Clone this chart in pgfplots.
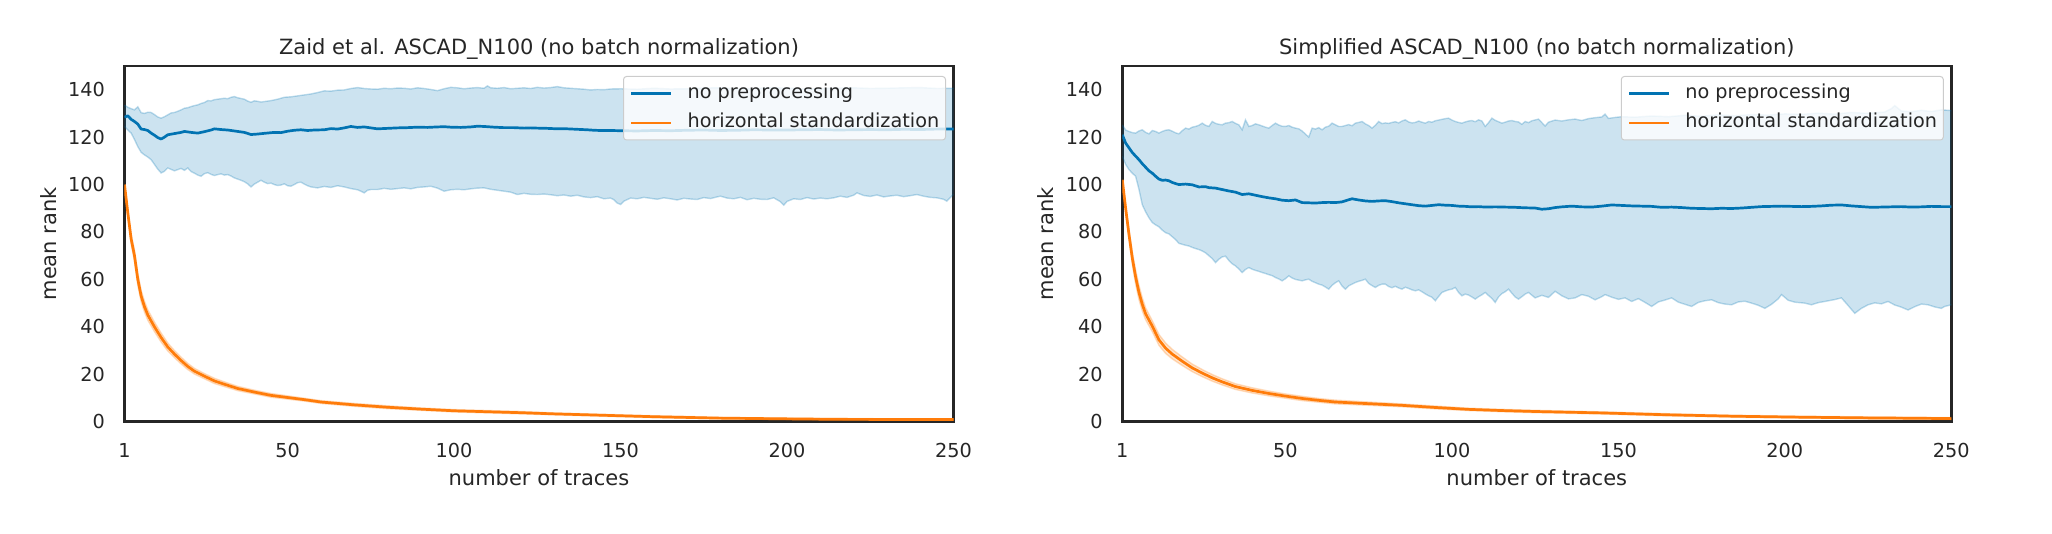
\documentclass[border=0pt]{standalone}
\usepackage{fontspec}
\setmainfont{DejaVu Sans}
\usepackage{pgfplots}
\usepackage{pgfplotstable}
\pgfplotsset{compat=1.18}
\definecolor{cblue}{RGB}{1,115,178}
\definecolor{corange}{RGB}{255,124,10}
\definecolor{tgray}{RGB}{38,38,38}
\definecolor{lframe}{RGB}{204,204,204}

% ---------- LEFT: blue band ----------
\pgfplotstableread[row sep=\\]{x y\\
1 133.5\\ 2 132.6\\ 3 132.0\\ 4 131.5\\ 5 132.8\\ 6 130.3\\ 7 130.0\\ 8 130.5\\ 9 130.4\\ 10 129.5\\
11 128.5\\ 12 128.0\\ 13 128.6\\ 14 129.4\\ 15 130.2\\ 16 130.4\\ 17 130.9\\ 18 131.5\\ 19 132.2\\ 20 132.4\\
21 132.9\\ 22 133.3\\ 23 133.6\\ 24 134.2\\ 25 134.6\\ 26 135.4\\ 27 135.3\\ 28 135.8\\ 29 136.0\\ 30 136.2\\
31 136.4\\ 32 136.2\\ 33 136.8\\ 34 137.1\\ 35 136.6\\ 36 136.3\\ 37 136.0\\ 38 135.2\\ 39 134.7\\ 40 135.3\\
41 135.1\\ 42 134.8\\ 43 135.0\\ 45 135.4\\ 47 136.0\\ 49 136.8\\ 51 137.0\\ 53 137.4\\ 55 137.8\\ 57 138.2\\
59 138.8\\ 61 139.5\\ 63 139.4\\ 65 139.8\\ 67 139.9\\ 69 140.5\\ 71 140.9\\ 73 140.5\\ 75 140.3\\ 77 140.2\\
79 140.6\\ 81 140.4\\ 83 140.7\\ 85 140.6\\ 87 140.3\\ 89 140.8\\ 91 140.5\\ 93 140.1\\ 95 139.6\\ 97 140.4\\
99 141.0\\ 101 140.8\\ 103 140.4\\ 105 140.7\\ 107 140.9\\ 109 140.6\\ 110 141.6\\ 111 140.8\\ 113 140.6\\ 115 140.9\\
117 140.4\\ 119 140.6\\ 121 140.8\\ 123 140.5\\ 125 141.0\\ 127 140.7\\ 129 140.9\\ 131 141.3\\ 133 140.8\\ 135 140.6\\
137 140.4\\ 139 140.2\\ 141 139.9\\ 143 140.1\\ 145 140.0\\ 147 140.3\\ 150 140.4\\ 155 140.2\\ 160 140.6\\ 165 140.3\\
170 140.4\\ 175 140.7\\ 180 140.8\\ 185 140.4\\ 190 140.5\\ 195 140.8\\ 200 140.7\\ 205 140.3\\ 210 140.4\\ 215 140.7\\
220 140.8\\ 225 140.5\\ 230 140.6\\ 235 140.8\\ 240 140.9\\ 245 140.5\\ 250 140.6\\
}\LU
\pgfplotstableread[row sep=\\]{x y\\
1 124.5\\ 2 123.0\\ 3 121.7\\ 4 119.0\\ 5 116.0\\ 6 113.6\\ 7 112.5\\ 8 111.6\\ 9 110.5\\ 10 108.5\\
11 106.5\\ 12 104.9\\ 13 105.6\\ 14 107.0\\ 15 106.4\\ 16 105.8\\ 17 106.3\\ 18 106.8\\ 19 106.0\\ 20 107.0\\
21 105.5\\ 22 104.8\\ 23 104.0\\ 24 103.5\\ 25 104.6\\ 26 105.0\\ 27 104.3\\ 28 103.8\\ 29 104.2\\ 30 104.5\\
31 104.0\\ 32 104.2\\ 33 103.6\\ 34 102.8\\ 35 102.3\\ 36 101.8\\ 37 101.2\\ 38 100.3\\ 39 99.0\\ 40 100.2\\
41 101.0\\ 42 101.8\\ 43 101.0\\ 44 100.4\\ 45 100.6\\ 46 100.0\\ 47 99.6\\ 48 99.8\\ 49 100.3\\ 50 99.5\\
51 99.3\\ 52 100.0\\ 53 100.8\\ 54 101.0\\ 55 100.2\\ 56 99.5\\ 57 99.0\\ 58 98.8\\ 59 98.6\\ 61 99.2\\
63 98.8\\ 65 99.5\\ 67 99.0\\ 69 98.3\\ 71 97.8\\ 72 97.2\\ 73 96.5\\ 74 97.6\\ 75 97.9\\ 77 97.9\\
79 98.4\\ 81 98.0\\ 83 98.3\\ 85 98.6\\ 87 98.2\\ 89 98.8\\ 91 99.0\\ 93 99.3\\ 95 98.5\\ 97 97.2\\
99 97.8\\ 101 98.0\\ 103 97.8\\ 105 98.2\\ 107 98.5\\ 109 98.6\\ 111 98.0\\ 113 97.6\\ 115 97.2\\ 117 96.8\\
119 95.8\\ 121 96.3\\ 123 95.9\\ 125 95.8\\ 127 96.0\\ 129 95.7\\ 131 95.3\\ 133 95.6\\ 135 95.1\\ 137 95.5\\
139 94.8\\ 141 94.5\\ 143 94.9\\ 145 94.0\\ 147 94.3\\ 148 93.6\\ 149 92.2\\ 150 91.6\\ 151 93.0\\ 153 94.3\\
155 94.0\\ 157 94.6\\ 159 94.2\\ 161 93.8\\ 163 94.4\\ 165 94.0\\ 167 93.5\\ 169 94.2\\ 171 93.9\\ 173 93.7\\
175 94.5\\ 177 94.1\\ 179 94.8\\ 180 95.1\\ 182 94.3\\ 184 94.0\\ 186 94.6\\ 188 93.6\\ 190 94.2\\ 192 93.8\\
194 93.7\\ 196 94.4\\ 198 92.8\\ 199 91.3\\ 200 92.9\\ 202 94.0\\ 204 93.7\\ 206 94.5\\ 208 93.9\\ 210 94.3\\
212 94.0\\ 214 94.4\\ 216 95.1\\ 218 94.6\\ 220 95.5\\ 221 96.5\\ 223 95.4\\ 225 95.0\\ 227 95.6\\ 229 94.8\\
231 95.2\\ 233 95.5\\ 235 94.9\\ 237 95.3\\ 239 95.8\\ 241 95.1\\ 243 94.6\\ 245 94.4\\ 247 93.8\\ 248 93.0\\
249 94.5\\ 250 95.8\\
}\LL
% ---------- LEFT: orange band ----------
\pgfplotstableread[row sep=\\]{x y\\
1 100\\ 2 89.5\\ 3 79\\ 4 72.3\\ 5 62.5\\ 6 55.4\\ 7 50.8\\ 8 47.2\\ 10 42\\ 12 37.4\\ 14 33.2\\ 16 30\\ 18 27.2\\
20 24.6\\ 22 22.5\\ 25 20.3\\ 28 18.3\\ 31 16.8\\ 35 14.9\\ 40 13.3\\ 45 11.9\\ 50 10.9\\ 55 9.9\\ 60 8.9\\ 70 7.7\\
80 6.7\\ 90 5.8\\ 100 5.1\\ 110 4.7\\ 120 4.3\\ 130 3.7\\ 140 3.3\\ 150 2.9\\ 160 2.5\\ 170 2.2\\ 180 1.8\\
190 1.65\\ 200 1.5\\ 215 1.3\\ 230 1.25\\ 250 1.2\\
}\LOU
\pgfplotstableread[row sep=\\]{x y\\
1 100\\ 2 86.5\\ 3 75\\ 4 67.7\\ 5 57.5\\ 6 50.6\\ 7 46.2\\ 8 42.8\\ 10 38\\ 12 33.6\\ 14 29.8\\ 16 27\\ 18 24.4\\
20 22\\ 22 20.1\\ 25 18.1\\ 28 16.1\\ 31 14.8\\ 35 13.1\\ 40 11.7\\ 45 10.3\\ 50 9.5\\ 55 8.7\\ 60 7.7\\ 70 6.5\\
80 5.5\\ 90 4.8\\ 100 4.1\\ 110 3.7\\ 120 3.3\\ 130 2.9\\ 140 2.5\\ 150 2.1\\ 160 1.7\\ 170 1.4\\ 180 1.2\\
190 1.05\\ 200 0.9\\ 215 0.7\\ 230 0.65\\ 250 0.6\\
}\LOL
% ---------- RIGHT: blue band ----------
\pgfplotstableread[row sep=\\]{x y\\
1 125.2\\ 2 123.0\\ 3 122.4\\ 4 121.9\\ 5 121.7\\ 6 122.6\\ 7 123.1\\ 8 122.0\\ 9 121.4\\ 10 122.8\\
11 122.4\\ 12 121.7\\ 13 122.4\\ 14 122.9\\ 15 123.1\\ 16 122.5\\ 17 121.8\\ 18 121.4\\ 19 122.7\\ 20 123.8\\
21 123.4\\ 22 124.2\\ 23 124.5\\ 24 125.0\\ 25 125.9\\ 26 125.0\\ 27 124.5\\ 28 126.6\\ 29 125.8\\ 30 125.4\\
31 125.2\\ 32 125.9\\ 33 126.1\\ 34 126.6\\ 35 125.8\\ 36 125.2\\ 37 123.1\\ 38 127.3\\ 39 124.5\\ 40 124.9\\
41 125.6\\ 42 125.2\\ 43 124.7\\ 44 124.2\\ 45 123.8\\ 46 124.9\\ 47 125.9\\ 48 125.1\\ 49 124.6\\ 50 124.5\\
51 124.9\\ 52 124.2\\ 53 123.8\\ 54 123.5\\ 55 122.6\\ 56 121.3\\ 57 120.0\\ 58 123.8\\ 59 123.4\\ 60 124.0\\
61 123.1\\ 62 124.2\\ 63 124.6\\ 64 125.9\\ 65 125.2\\ 66 124.5\\ 67 124.5\\ 68 124.9\\ 69 125.3\\ 70 124.8\\
71 125.9\\ 72 126.2\\ 73 126.6\\ 74 125.6\\ 75 124.9\\ 76 123.8\\ 77 125.0\\ 78 126.6\\ 79 125.7\\ 80 126.0\\
81 125.8\\ 82 126.2\\ 83 126.5\\ 84 126.0\\ 85 126.8\\ 86 127.3\\ 87 126.4\\ 88 126.0\\ 89 126.2\\ 90 126.8\\
91 126.3\\ 92 125.9\\ 93 126.6\\ 94 126.3\\ 95 126.9\\ 96 127.2\\ 97 127.5\\ 98 127.8\\ 99 128.0\\ 100 127.2\\
101 126.6\\ 102 126.2\\ 103 125.9\\ 104 126.4\\ 105 126.8\\ 106 127.0\\ 107 126.5\\ 108 127.3\\ 109 126.8\\ 110 124.5\\
111 126.1\\ 112 128.0\\ 113 127.1\\ 114 126.5\\ 115 125.9\\ 116 126.3\\ 117 126.8\\ 118 127.0\\ 119 126.6\\ 120 126.4\\
121 125.4\\ 122 126.6\\ 123 126.1\\ 124 126.9\\ 126 127.6\\ 128 124.7\\ 129 126.3\\ 131 127.2\\ 133 126.8\\ 135 127.3\\
137 127.6\\ 139 127.0\\ 141 127.8\\ 143 128.2\\ 145 128.5\\ 146 129.7\\ 147 127.9\\ 149 128.3\\ 151 128.6\\ 155 128.4\\
160 128.9\\ 165 128.6\\ 170 129.2\\ 175 128.8\\ 180 129.4\\ 185 129.0\\ 190 129.5\\ 195 129.3\\ 200 129.8\\ 205 129.6\\
210 130.1\\ 215 129.7\\ 220 130.4\\ 225 130.0\\ 230 130.6\\ 232 132.0\\ 233 133.3\\ 235 131.0\\ 238 130.7\\ 241 131.3\\
244 130.8\\ 247 131.5\\ 250 131.2\\
}\RU
\pgfplotstableread[row sep=\\]{x y\\
1 111.9\\ 2 108.5\\ 3 106.3\\ 4 104.8\\ 5 103.5\\ 6 98\\ 7 91.5\\ 8 88.5\\ 9 86\\ 10 84\\
11 83.0\\ 12 82.2\\ 13 80.8\\ 14 79.7\\ 15 79.2\\ 16 78.0\\ 17 76.8\\ 18 75.2\\ 19 74.8\\ 20 74.4\\
21 74.1\\ 22 73.5\\ 23 73.0\\ 24 72.6\\ 25 72.0\\ 26 71.2\\ 27 70.0\\ 28 68.8\\ 29 67.1\\ 30 68.5\\
31 69.5\\ 32 69.8\\ 33 68.0\\ 34 66.6\\ 35 65.7\\ 36 64.4\\ 37 62.9\\ 38 64.2\\ 39 65.0\\ 40 64.3\\
41 63.8\\ 42 63.4\\ 43 62.9\\ 44 62.5\\ 45 62.0\\ 46 61.6\\ 47 60.8\\ 48 60.2\\ 49 59.4\\ 50 60.3\\
51 61.5\\ 52 60.6\\ 53 60.0\\ 54 59.7\\ 55 59.4\\ 56 59.8\\ 57 60.1\\ 58 59.2\\ 59 58.6\\ 60 58.0\\
61 57.6\\ 62 56.8\\ 63 55.9\\ 64 57.5\\ 65 58.6\\ 66 59.4\\ 67 57.2\\ 68 55.9\\ 69 57.3\\ 70 58.0\\
71 58.7\\ 72 59.2\\ 73 59.6\\ 74 60.1\\ 75 58.3\\ 76 57.4\\ 77 56.6\\ 78 57.5\\ 79 58.0\\ 80 58.0\\
81 57.0\\ 82 56.5\\ 83 57.1\\ 84 56.4\\ 85 55.9\\ 86 56.7\\ 87 56.2\\ 88 55.6\\ 89 55.2\\ 90 55.6\\
91 54.8\\ 92 53.9\\ 93 53.1\\ 94 52.5\\ 95 51.0\\ 96 52.8\\ 97 54.5\\ 98 55.1\\ 99 55.6\\ 100 55.9\\
101 56.6\\ 102 54.5\\ 103 53.1\\ 104 53.8\\ 105 53.4\\ 106 52.6\\ 107 51.7\\ 108 52.7\\ 109 53.5\\ 110 54.5\\
111 53.2\\ 112 52.0\\ 113 50.3\\ 114 52.6\\ 115 54.0\\ 116 54.8\\ 117 55.9\\ 118 54.2\\ 119 52.6\\ 120 51.7\\
121 52.7\\ 122 53.8\\ 123 54.5\\ 125 52.2\\ 127 53.3\\ 129 52.4\\ 131 55.0\\ 133 53.1\\ 135 51.8\\ 137 52.2\\
139 53.6\\ 141 52.9\\ 143 51.4\\ 145 52.7\\ 146 53.6\\ 148 52.5\\ 150 51.6\\ 152 52.2\\ 154 50.7\\ 156 51.9\\
158 50.3\\ 160 48.6\\ 162 50.5\\ 164 51.3\\ 166 52.2\\ 168 50.4\\ 170 49.5\\ 172 48.6\\ 174 50.3\\ 176 51.0\\
178 51.4\\ 180 50.2\\ 182 49.6\\ 184 49.3\\ 186 50.5\\ 188 50.8\\ 190 50.0\\ 192 49.1\\ 194 47.8\\ 196 49.5\\
198 51.8\\ 199 53.6\\ 201 51.2\\ 203 50.4\\ 206 50.0\\ 208 49.3\\ 210 50.2\\ 212 50.7\\ 215 51.5\\ 217 52.2\\
219 49.0\\ 221 45.7\\ 223 47.8\\ 225 49.3\\ 227 50.1\\ 229 49.7\\ 231 50.7\\ 233 49.2\\ 235 48.3\\ 237 47.1\\
239 48.5\\ 241 49.6\\ 243 49.3\\ 245 48.4\\ 247 47.8\\ 248 48.6\\ 250 49.3\\
}\RL
% ---------- RIGHT: orange band ----------
\pgfplotstableread[row sep=\\]{x y\\
1 102\\ 2 91.5\\ 3 81\\ 4 71.5\\ 5 64\\ 6 57.5\\ 7 52.3\\ 8 48\\ 10 42.6\\ 12 36.8\\ 14 33.2\\ 16 30.5\\ 19 27.3\\
22 24.3\\ 25 22\\ 28 19.9\\ 31 18.1\\ 35 16\\ 40 14.3\\ 45 12.9\\ 50 11.7\\ 55 10.7\\ 60 9.8\\ 65 9.1\\ 75 8.3\\
85 7.5\\ 95 6.6\\ 105 5.7\\ 115 5.2\\ 125 4.8\\ 135 4.45\\ 145 4.15\\ 155 3.75\\ 165 3.35\\ 175 3.0\\ 185 2.7\\
195 2.5\\ 205 2.3\\ 215 2.15\\ 225 2.0\\ 240 1.85\\ 250 1.7\\
}\ROU
\pgfplotstableread[row sep=\\]{x y\\
1 102\\ 2 88.5\\ 3 77\\ 4 66.5\\ 5 58\\ 6 51.5\\ 7 46.7\\ 8 43\\ 10 38\\ 12 32.2\\ 14 28.8\\ 16 26.5\\ 19 23.7\\
22 21.1\\ 25 19\\ 28 17.1\\ 31 15.5\\ 35 13.6\\ 40 12.1\\ 45 10.9\\ 50 9.9\\ 55 8.9\\ 60 8.2\\ 65 7.5\\ 75 6.9\\
85 6.3\\ 95 5.4\\ 105 4.7\\ 115 4.2\\ 125 3.8\\ 135 3.55\\ 145 3.25\\ 155 2.85\\ 165 2.45\\ 175 2.2\\ 185 1.9\\
195 1.7\\ 205 1.5\\ 215 1.35\\ 225 1.2\\ 240 1.05\\ 250 0.9\\
}\ROL

% band polygons: upper edge forward, lower edge reversed
\pgfplotstablesort[sort key=x, sort cmp=float <]{\LUband}{\LU}
\pgfplotstablesort[sort key=x, sort cmp=float >]{\LLrev}{\LL}
\pgfplotstablevertcat{\LUband}{\LLrev}
\pgfplotstablesort[sort key=x, sort cmp=float <]{\LOUband}{\LOU}
\pgfplotstablesort[sort key=x, sort cmp=float >]{\LOLrev}{\LOL}
\pgfplotstablevertcat{\LOUband}{\LOLrev}
\pgfplotstablesort[sort key=x, sort cmp=float <]{\RUband}{\RU}
\pgfplotstablesort[sort key=x, sort cmp=float >]{\RLrev}{\RL}
\pgfplotstablevertcat{\RUband}{\RLrev}
\pgfplotstablesort[sort key=x, sort cmp=float <]{\ROUband}{\ROU}
\pgfplotstablesort[sort key=x, sort cmp=float >]{\ROLrev}{\ROL}
\pgfplotstablevertcat{\ROUband}{\ROLrev}

\pgfplotsset{
  myaxis/.style={
    scale only axis, width=829pt, height=355.7pt,
    xmin=1, xmax=250, ymin=0, ymax=150,
    xtick={1,50,100,150,200,250},
    ytick={0,20,40,60,80,100,120,140},
    major tick length=0pt,
    axis line style={line width=2.6pt, draw=tgray},
    /pgf/number format/assume math mode=true,
    tick label style={font=\fontsize{19.25}{23}\selectfont, text=tgray},
    xticklabel style={inner sep=0pt, anchor=north, yshift=-21.3pt},
    yticklabel style={inner sep=0pt, anchor=east, xshift=-19.5pt},
    label style={font=\fontsize{21}{25}\selectfont, text=tgray},
    xlabel style={at={(axis description cs:0.5,-0.1799)}, anchor=base},
    ylabel style={at={(axis description cs:-0.0826,0.5)}, anchor=base},
    title style={at={(axis description cs:0.5,1.0141)}, anchor=base, font=\fontsize{21}{25}\selectfont, text=tgray},
    xlabel={number of traces}, ylabel={mean rank},
    legend cell align=left,
    legend image code/.code={\draw[#1, line width=2.7pt] (0pt,0pt) -- (40pt,0pt);},
    legend style={
      at={(axis description cs:0.99095,0.97189)}, anchor=north east,
      draw=lframe, line width=1pt, rounded corners=3pt,
      fill=white, fill opacity=0.8, text opacity=1, draw opacity=1,
      inner xsep=6.3pt, inner ysep=7.5pt, row sep=10.5pt,
      font=\fontsize{19.25}{23}\selectfont, text=tgray,
      nodes={inner sep=0pt, text height=14.5pt, text depth=4.5pt},
      /tikz/every odd column/.append style={column sep=15pt},
    },
  },
  meanline/.style={line width=2.7pt, line join=round},
  bandedge/.style={draw=#1, draw opacity=0.25, line width=1.4pt, forget plot},
  bandfill/.style={fill=#1, fill opacity=0.2, draw=none, forget plot},
}
\begin{document}
\begin{tikzpicture}
\path[use as bounding box] (-124.5pt,-112.3pt) rectangle (1927.5pt,421.7pt);
% ================= LEFT =================
\begin{axis}[myaxis, at={(0pt,0pt)}, anchor=south west,
  title={Zaid et al. ASCAD\_N100 (no batch normalization)}]
\addplot[bandfill=cblue] table[x=x, y=y] {\LUband} -- cycle;
\addplot[bandedge=cblue] table[x=x, y=y] {\LU};
\addplot[bandedge=cblue] table[x=x, y=y] {\LL};
\addplot[meanline, cblue] coordinates {
(1,128.4)(2,129.0)(3,127.5)(4,126.6)(5,125.5)(6,123.4)(7,123.2)(8,122.8)(9,121.7)(10,120.8)
(11,119.8)(12,119.2)(13,120.0)(14,121.0)(16,121.5)(18,122.0)(19,122.4)(21,122.0)(23,121.7)(25,122.3)
(27,123.0)(28,123.5)(30,123.2)(32,123.0)(35,122.4)(37,122.0)(39,121.1)(41,121.3)(43,121.6)(46,122.0)
(48,121.9)(50,122.5)(52,122.9)(54,123.1)(56,122.8)(58,123.0)(61,123.1)(63,123.6)(65,123.4)(67,123.9)
(69,124.5)(71,124.1)(73,124.3)(75,123.9)(77,123.5)(80,123.7)(83,123.9)(86,124.0)(89,124.2)(92,124.1)
(95,124.3)(97,124.4)(99,124.2)(102,124.1)(105,124.3)(107,124.6)(109,124.5)(112,124.2)(115,124.0)(118,124.0)
(121,123.8)(123,123.9)(125,123.8)(128,123.7)(131,123.5)(134,123.5)(137,123.3)(140,123.1)(142,122.9)(144,122.8)
(147,122.8)(150,122.7)(155,122.6)(160,122.8)(165,122.7)(170,122.9)(175,123.0)(180,122.8)(185,122.9)(190,123.1)
(195,123.0)(200,123.0)(205,123.1)(210,123.2)(215,123.0)(220,123.1)(225,123.2)(230,123.1)(235,123.3)(240,123.2)
(245,123.4)(250,123.4)};
\addlegendentry{no preprocessing}
\addplot[bandfill=corange] table[x=x, y=y] {\LOUband} -- cycle;
\addplot[bandedge=corange] table[x=x, y=y] {\LOU};
\addplot[bandedge=corange] table[x=x, y=y] {\LOL};
\addplot[meanline, corange] coordinates {
(1,100)(2,88)(3,77)(4,70)(5,60)(6,53)(7,48.5)(8,45)(10,40)(12,35.5)(14,31.5)(16,28.5)(18,25.8)
(20,23.3)(22,21.3)(25,19.2)(28,17.2)(31,15.8)(35,14.0)(40,12.5)(45,11.1)(50,10.2)(55,9.3)(60,8.3)(70,7.1)
(80,6.1)(90,5.3)(100,4.6)(110,4.2)(120,3.8)(130,3.3)(140,2.9)(150,2.5)(160,2.1)(170,1.8)(180,1.5)
(190,1.35)(200,1.2)(215,1.0)(230,0.95)(250,0.9)};
\addlegendentry{horizontal standardization}
\end{axis}
% ================= RIGHT =================
\begin{axis}[myaxis, at={(997.8pt,0pt)}, anchor=south west,
  title={Simplified ASCAD\_N100 (no batch normalization)}]
\addplot[bandfill=cblue] table[x=x, y=y] {\RUband} -- cycle;
\addplot[bandedge=cblue] table[x=x, y=y] {\RU};
\addplot[bandedge=cblue] table[x=x, y=y] {\RL};
\addplot[meanline, cblue] coordinates {
(1,121)(2,117.5)(3,115.5)(4,113.5)(5,112)(6,110.5)(7,108.8)(8,107.3)(9,105.8)(10,104.8)
(11,103.5)(12,102.3)(13,101.8)(14,101.9)(15,101.6)(16,100.9)(17,100.4)(18,100.0)(20,100.2)(22,99.9)
(24,99.0)(26,99.1)(27,98.7)(29,98.5)(31,97.9)(33,97.3)(35,96.8)(37,95.8)(39,96.1)(41,95.5)
(43,94.9)(45,94.4)(47,94.0)(49,93.4)(51,93.2)(53,93.5)(55,92.4)(57,92.3)(59,92.2)(61,92.4)
(63,92.5)(65,92.4)(67,92.7)(69,93.6)(70,94.0)(72,93.5)(74,93.1)(76,92.9)(78,93.1)(80,93.2)
(82,92.8)(84,92.3)(86,91.9)(88,91.5)(90,91.1)(92,90.9)(94,91.2)(96,91.5)(98,91.3)(100,91.2)
(102,90.9)(104,90.8)(106,90.6)(108,90.7)(110,90.5)(113,90.6)(116,90.5)(119,90.4)(122,90.2)(125,90.1)
(127,89.6)(129,89.8)(131,90.3)(133,90.6)(136,90.9)(139,90.6)(142,90.5)(145,90.9)(148,91.4)(151,91.2)
(154,91.0)(157,90.9)(160,90.8)(163,90.4)(166,90.5)(169,90.3)(172,90.0)(175,89.9)(178,89.8)(181,90.0)
(184,89.9)(187,90.1)(190,90.4)(193,90.7)(196,90.8)(199,90.9)(202,90.8)(205,90.7)(208,90.8)(211,91.0)
(214,91.3)(217,91.4)(220,91.0)(223,90.7)(226,90.4)(229,90.5)(232,90.6)(235,90.7)(238,90.5)(241,90.6)
(244,90.8)(247,90.7)(250,90.7)};
\addlegendentry{no preprocessing}
\addplot[bandfill=corange] table[x=x, y=y] {\ROUband} -- cycle;
\addplot[bandedge=corange] table[x=x, y=y] {\ROU};
\addplot[bandedge=corange] table[x=x, y=y] {\ROL};
\addplot[meanline, corange] coordinates {
(1,102)(2,90)(3,79)(4,69)(5,61)(6,54.5)(7,49.5)(8,45.5)(10,40.3)(12,34.5)(14,31)(16,28.5)(19,25.5)
(22,22.7)(25,20.5)(28,18.5)(31,16.8)(35,14.8)(40,13.2)(45,11.9)(50,10.8)(55,9.8)(60,9.0)(65,8.3)(75,7.6)
(85,6.9)(95,6.0)(105,5.2)(115,4.7)(125,4.3)(135,4.0)(145,3.7)(155,3.3)(165,2.9)(175,2.6)(185,2.3)
(195,2.1)(205,1.9)(215,1.75)(225,1.6)(240,1.45)(250,1.3)};
\addlegendentry{horizontal standardization}
\end{axis}
\end{tikzpicture}
\end{document}
